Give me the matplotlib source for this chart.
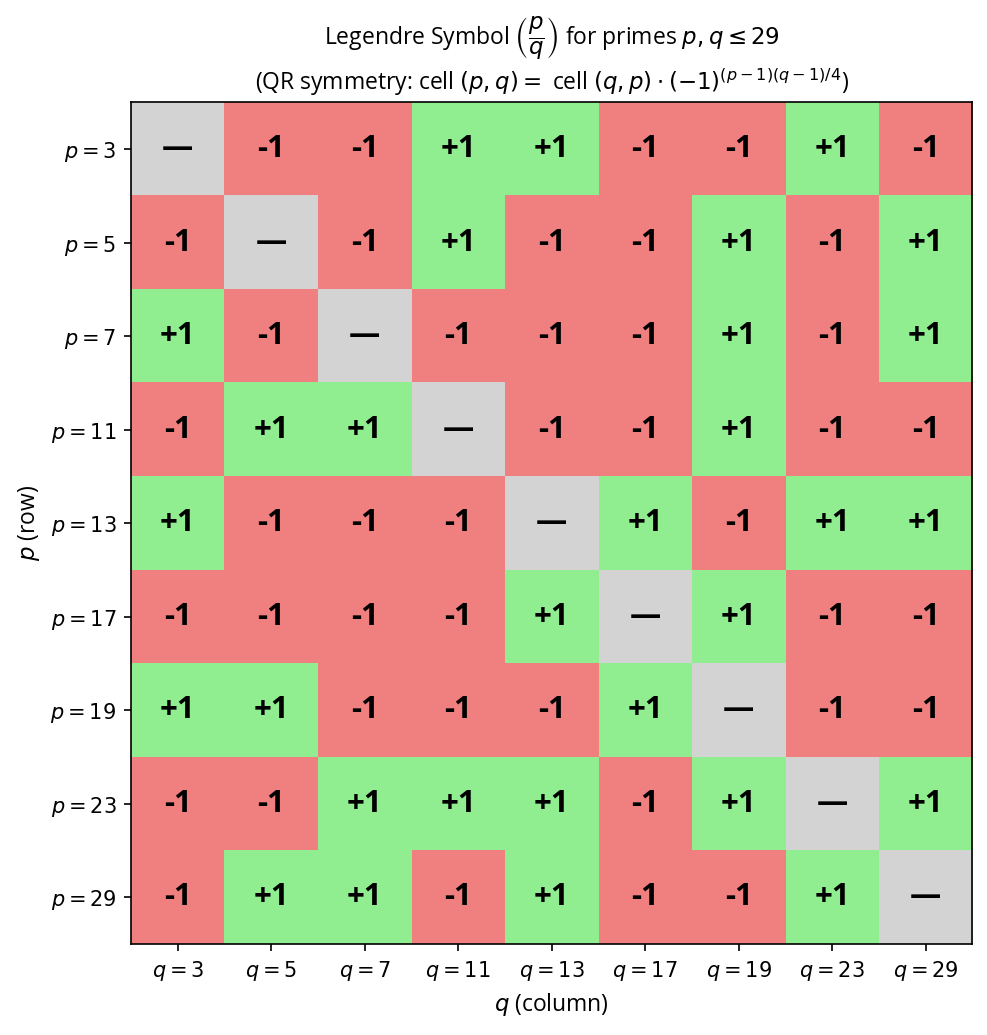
import numpy as np
import matplotlib
matplotlib.use("Agg")
import matplotlib.pyplot as plt
from matplotlib.colors import ListedColormap, BoundaryNorm

plt.rcParams['font.family'] = ['Open Sans', 'DejaVu Sans']

primes = [3, 5, 7, 11, 13, 17, 19, 23, 29]

# Legendre symbol (p/q), rows = p, columns = q; 0 marks the diagonal
legendre = [
    [0, -1, -1, 1, 1, -1, -1, 1, -1],
    [-1, 0, -1, 1, -1, -1, 1, -1, 1],
    [1, -1, 0, -1, -1, -1, 1, -1, 1],
    [-1, 1, 1, 0, -1, -1, 1, -1, -1],
    [1, -1, -1, -1, 0, 1, -1, 1, 1],
    [-1, -1, -1, -1, 1, 0, 1, -1, -1],
    [1, 1, -1, -1, -1, 1, 0, -1, -1],
    [-1, -1, 1, 1, 1, -1, 1, 0, 1],
    [-1, 1, 1, -1, 1, -1, -1, 1, 0],
]

row_labels = [f"$p={p}$" for p in primes]
col_labels = [f"$q={q}$" for q in primes]

data = np.array(legendre)
cmap = ListedColormap(['lightcoral', 'lightgray', 'lightgreen'])
norm = BoundaryNorm([-1.5, -0.5, 0.5, 1.5], cmap.N)

fig, ax = plt.subplots(figsize=(6.58, 6.9), dpi=150)
ax.imshow(data, cmap=cmap, norm=norm, aspect='equal')

for i in range(len(primes)):
    for j in range(len(primes)):
        v = data[i, j]
        if v == 0:
            txt = "—"
        elif v > 0:
            txt = "+1"
        else:
            txt = "-1"
        ax.text(j, i, txt, ha='center', va='center', fontsize=15, fontweight='bold', color='black')

ax.set_xticks(range(len(primes)))
ax.set_yticks(range(len(primes)))
ax.set_xticklabels(col_labels)
ax.set_yticklabels(row_labels)
ax.set_xlabel("$q$ (column)", fontsize=11)
ax.set_ylabel("$p$ (row)", fontsize=11)
ax.set_title("Legendre Symbol $\\left(\\dfrac{p}{q}\\right)$ for primes $p, q \\leq 29$\n"
             "(QR symmetry: cell $(p,q) =$ cell $(q,p) \\cdot (-1)^{(p-1)(q-1)/4}$)",
             fontsize=11)

fig.subplots_adjust(left=0.132, right=0.986, top=0.901, bottom=0.088)
fig.savefig("out.png", dpi=150)
